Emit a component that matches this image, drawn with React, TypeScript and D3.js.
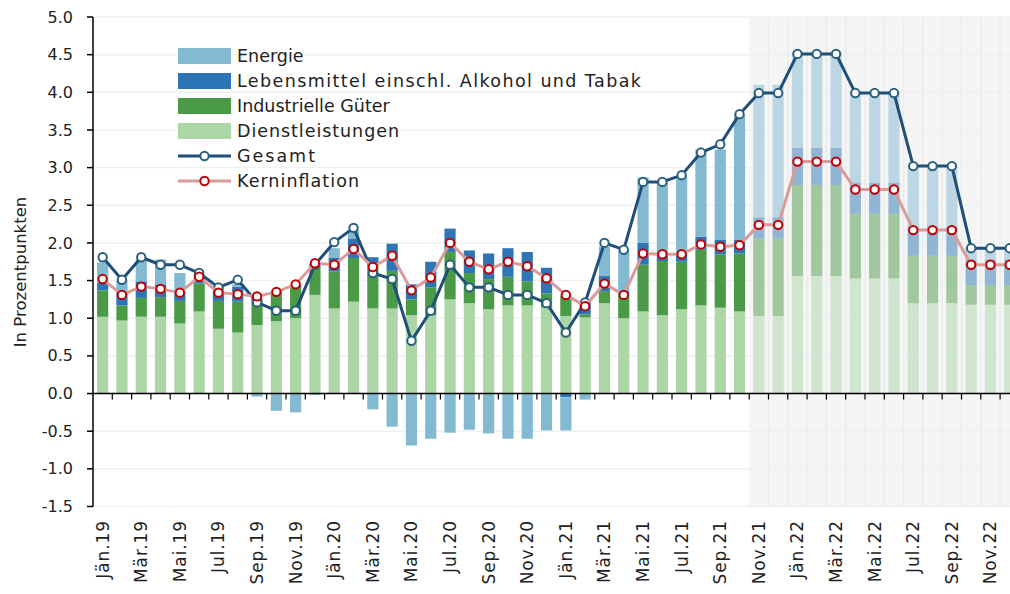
import React, { useEffect, useRef } from 'react';
import * as d3 from 'd3';

// Monate Jän.19 - Dez.22
const monthNames = ['Jän', 'Feb', 'Mär', 'Apr', 'Mai', 'Jun', 'Jul', 'Aug', 'Sep', 'Okt', 'Nov', 'Dez'];
const years = ['19', '20', '21', '22'];
const months: string[] = years.flatMap(y => monthNames.map(m => `${m}.${y}`));

// Beiträge in Prozentpunkten
const dienstleistungen = [
  1.02, 0.97, 1.02, 1.02, 0.93, 1.09, 0.86, 0.81, 0.91, 0.96, 1.00, 1.31,
  1.13, 1.22, 1.13, 1.13, 1.04, 1.04, 1.25, 1.20, 1.12, 1.17, 1.17, 1.14,
  1.03, 1.01, 1.20, 1.00, 1.09, 1.04, 1.12, 1.17, 1.14, 1.09, 1.03, 1.03,
  1.56, 1.56, 1.56, 1.53, 1.53, 1.53, 1.20, 1.20, 1.20, 1.18, 1.18, 1.18,
];
const industrie = [
  0.35, 0.20, 0.25, 0.26, 0.30, 0.37, 0.37, 0.41, 0.32, 0.37, 0.40, 0.37,
  0.49, 0.58, 0.58, 0.50, 0.21, 0.37, 0.63, 0.40, 0.40, 0.38, 0.32, 0.19,
  0.27, 0.04, 0.16, 0.30, 0.62, 0.72, 0.63, 0.74, 0.71, 0.77, 1.03, 1.03,
  1.21, 1.21, 1.21, 0.86, 0.86, 0.86, 0.63, 0.63, 0.63, 0.26, 0.26, 0.26,
];
const lebensmittel = [
  0.10, 0.18, 0.22, 0.17, 0.10, 0.07, 0.14, 0.20, 0.03, 0.02, 0.04, 0.04,
  0.18, 0.26, 0.10, 0.36, 0.20, 0.34, 0.31, 0.30, 0.34, 0.38, 0.39, 0.34,
  -0.05, 0.17, 0.20, 0.06, 0.29, 0.10, 0.10, 0.17, 0.19, 0.18, 0.28, 0.28,
  0.49, 0.49, 0.49, 0.41, 0.41, 0.41, 0.39, 0.39, 0.39, 0.34, 0.34, 0.34,
];
const energie = [
  0.27, 0.15, 0.29, 0.33, 0.27, 0.06, 0.04, 0.03, -0.04, -0.23, -0.25, -0.02,
  0.13, 0.11, -0.21, -0.44, -0.69, -0.60, -0.52, -0.48, -0.53, -0.60, -0.60, -0.49,
  -0.44, -0.08, 0.39, 0.55, 0.87, 0.95, 1.03, 1.16, 1.20, 1.66, 1.76, 1.76,
  1.28, 1.28, 1.28, 1.22, 1.22, 1.22, 0.80, 0.80, 0.80, 0.16, 0.16, 0.16,
];
const gesamt = [
  1.81, 1.51, 1.81, 1.71, 1.71, 1.60, 1.41, 1.51, 1.21, 1.10, 1.10, 1.71,
  2.01, 2.20, 1.60, 1.52, 0.70, 1.10, 1.71, 1.41, 1.41, 1.31, 1.31, 1.20,
  0.81, 1.21, 2.00, 1.91, 2.81, 2.81, 2.90, 3.20, 3.31, 3.71, 3.99, 3.99,
  4.51, 4.51, 4.51, 3.99, 3.99, 3.99, 3.02, 3.02, 3.02, 1.93, 1.93, 1.93,
];
const kerninflation = [
  1.52, 1.31, 1.42, 1.39, 1.34, 1.55, 1.34, 1.32, 1.29, 1.35, 1.45, 1.73,
  1.71, 1.92, 1.68, 1.83, 1.37, 1.54, 2.00, 1.75, 1.65, 1.75, 1.69, 1.53,
  1.31, 1.16, 1.46, 1.31, 1.86, 1.85, 1.85, 1.98, 1.95, 1.97, 2.24, 2.24,
  3.08, 3.08, 3.08, 2.71, 2.71, 2.71, 2.17, 2.17, 2.17, 1.71, 1.71, 1.71,
];
const prognoseStart = 'Nov.21';
const yTicks = [-1.5, -1.0, -0.5, 0, 0.5, 1.0, 1.5, 2.0, 2.5, 3.0, 3.5, 4.0, 4.5, 5.0];

const seriesKeys = ['dienst', 'industrie', 'lebensmittel', 'energie'];
const seriesLabels: Record<string, string> = {
  energie: 'Energie',
  lebensmittel: 'Lebensmittel einschl. Alkohol und Tabak',
  industrie: 'Industrielle Güter',
  dienst: 'Dienstleistungen',
};
const colors: Record<string, string> = {
  energie: '#84b9d2',
  lebensmittel: '#2e75b6',
  industrie: '#4b9a47',
  dienst: '#acd6a6',
};
// Textbreiten der Legende, nur wo die Vorlage breiter läuft
const legendWidths: Record<string, number | null> = {
  energie: null,
  lebensmittel: 404,
  industrie: null,
  dienst: 162,
  Gesamt: 78,
  Kerninflation: 122,
};

const W = 1010;
const H = 594;
const FONT = '"DejaVu Sans", sans-serif';

export default function App() {
  const svgRef = useRef<SVGSVGElement | null>(null);

  useEffect(() => {
    if (!svgRef.current) return;
    const margin = { top: 17, left: 93 };
    const plotBottom = 506.5;
    const band = 19.3;

    const svg = d3.select(svgRef.current);
    svg.selectAll('*').remove();

    const x = d3.scaleBand<string>()
      .domain(months)
      .range([margin.left, margin.left + band * months.length])
      .paddingInner(0.42)
      .paddingOuter(0.21);

    const y = d3.scaleLinear().domain([-1.5, 5.0]).range([plotBottom, margin.top]);

    const step = x.step();
    const xStart = (m: string) => margin.left + months.indexOf(m) * step;
    const xEnd = margin.left + step * months.length;
    const fcX = xStart(prognoseStart);
    const isForecast = (i: number) => i >= months.indexOf(prognoseStart);

    // Prognosebereich
    svg.append('rect')
      .attr('x', fcX).attr('y', y(5.0))
      .attr('width', xEnd - fcX).attr('height', y(-1.5) - y(5.0))
      .attr('fill', '#f5f5f5');

    // horizontale Gitterlinien
    svg.append('g')
      .selectAll('line')
      .data(yTicks.filter(t => t !== 0))
      .enter()
      .append('line')
      .attr('x1', margin.left).attr('x2', xEnd)
      .attr('y1', d => y(d)).attr('y2', d => y(d))
      .attr('stroke', '#edf2f2')
      .attr('stroke-width', 1.5);

    // vertikale Linien im Prognosebereich
    svg.append('g')
      .selectAll('line')
      .data(months.filter((m, i) => isForecast(i)))
      .enter()
      .append('line')
      .attr('x1', d => xStart(d) + step).attr('x2', d => xStart(d) + step)
      .attr('y1', y(5.0)).attr('y2', y(-1.5))
      .attr('stroke', '#ececec')
      .attr('stroke-width', 1.5);

    // gestapelte Balken
    const rows = months.map((m, i) => ({
      month: m,
      dienst: dienstleistungen[i],
      industrie: industrie[i],
      lebensmittel: lebensmittel[i],
      energie: energie[i],
    }));
    const stacked = d3.stack<any>()
      .keys(seriesKeys)
      .offset(d3.stackOffsetDiverging)(rows);

    stacked.forEach(layer => {
      svg.append('g')
        .selectAll('rect')
        .data(layer)
        .enter()
        .append('rect')
        .attr('x', d => x(d.data.month) as number)
        .attr('width', x.bandwidth())
        .attr('y', d => y(Math.max(d[0], d[1])))
        .attr('height', d => Math.abs(y(d[0]) - y(d[1])))
        .attr('fill', colors[layer.key])
        .attr('opacity', (d, i) => (isForecast(i) ? 0.5 : 1));
    });

    // Achsen
    svg.append('line')
      .attr('x1', margin.left).attr('x2', xEnd)
      .attr('y1', y(0)).attr('y2', y(0))
      .attr('stroke', '#000').attr('stroke-width', 1.5);
    svg.append('g')
      .selectAll('line')
      .data(months)
      .enter()
      .append('line')
      .attr('x1', d => xStart(d) + step).attr('x2', d => xStart(d) + step)
      .attr('y1', y(0)).attr('y2', y(0) + 6)
      .attr('stroke', '#000').attr('stroke-width', 1.2);

    svg.append('line')
      .attr('x1', margin.left).attr('x2', margin.left)
      .attr('y1', y(5.0)).attr('y2', y(-1.5))
      .attr('stroke', '#000').attr('stroke-width', 1.5);
    const yTickG = svg.append('g')
      .selectAll('g')
      .data(yTicks)
      .enter()
      .append('g');
    yTickG.append('line')
      .attr('x1', margin.left - 6).attr('x2', margin.left)
      .attr('y1', d => y(d)).attr('y2', d => y(d))
      .attr('stroke', '#000').attr('stroke-width', 1.5);
    yTickG.append('text')
      .attr('x', 73)
      .attr('y', d => y(d))
      .attr('dy', '0.35em')
      .attr('text-anchor', 'end')
      .style('font-family', FONT)
      .style('font-size', '16px')
      .attr('fill', '#222')
      .text(d => d.toFixed(1));

    // x-Beschriftung
    svg.append('g')
      .selectAll('text')
      .data(months.filter((m, i) => i % 2 === 0))
      .enter()
      .append('text')
      .attr('transform', d => `translate(${(x(d) as number) + x.bandwidth() / 2 + 6}, 520) rotate(-90)`)
      .attr('text-anchor', 'end')
      .style('font-family', FONT)
      .style('font-size', '17px')
      .style('letter-spacing', '0.9px')
      .attr('fill', '#222')
      .text(d => d);

    svg.append('text')
      .attr('transform', `translate(26, 272) rotate(-90)`)
      .attr('text-anchor', 'middle')
      .style('font-family', FONT)
      .style('font-size', '16.5px')
      .attr('fill', '#222')
      .text('In Prozentpunkten');

    // Linien
    const lineGen = d3.line<number>()
      .x((d, i) => (x(months[i]) as number) + x.bandwidth() / 2)
      .y(d => y(d));

    const drawLine = (values: number[], lineColor: string, markerStroke: string) => {
      svg.append('path')
        .datum(values)
        .attr('d', lineGen)
        .attr('fill', 'none')
        .attr('stroke', lineColor)
        .attr('stroke-width', 3)
        .attr('stroke-linejoin', 'round');
      svg.append('g')
        .selectAll('circle')
        .data(values)
        .enter()
        .append('circle')
        .attr('cx', (d, i) => (x(months[i]) as number) + x.bandwidth() / 2)
        .attr('cy', d => y(d))
        .attr('r', 4.2)
        .attr('fill', '#fff')
        .attr('stroke', markerStroke)
        .attr('stroke-width', 2);
    };
    drawLine(gesamt, '#1f4e79', '#2a5f7e');
    drawLine(kerninflation, '#d99a9a', '#c00000');

    // Legende
    const legend = svg.append('g');
    const addLabel = (key: string, label: string, cy: number) => {
      const t = legend.append('text')
        .attr('x', 237).attr('y', cy)
        .attr('dy', '0.35em')
        .style('font-family', FONT)
        .style('font-size', '17.5px')
        .attr('fill', '#222')
        .text(label);
      const w = legendWidths[key];
      if (w) t.attr('textLength', w).attr('lengthAdjust', 'spacing');
    };
    const legendItems = ['energie', 'lebensmittel', 'industrie', 'dienst'];
    legendItems.forEach((key, i) => {
      const cy = 56 + i * 25;
      legend.append('rect')
        .attr('x', 178).attr('y', cy - 8)
        .attr('width', 53).attr('height', 16)
        .attr('fill', colors[key]);
      addLabel(key, seriesLabels[key], cy);
    });
    const lineLegend = [
      { label: 'Gesamt', color: '#1f4e79', marker: '#2a5f7e' },
      { label: 'Kerninflation', color: '#d99a9a', marker: '#c00000' },
    ];
    lineLegend.forEach((item, i) => {
      const cy = 156 + i * 25;
      legend.append('line')
        .attr('x1', 178).attr('x2', 231)
        .attr('y1', cy).attr('y2', cy)
        .attr('stroke', item.color).attr('stroke-width', 3);
      legend.append('circle')
        .attr('cx', 204.5).attr('cy', cy).attr('r', 4.2)
        .attr('fill', '#fff')
        .attr('stroke', item.marker).attr('stroke-width', 2);
      addLabel(item.label, item.label, cy);
    });
  }, []);

  return (
    <div style={{ position: 'fixed', left: 0, top: 0, width: W, height: H, background: '#fff' }}>
      <svg ref={svgRef} width={W} height={H} style={{ display: 'block' }}></svg>
    </div>
  );
}
